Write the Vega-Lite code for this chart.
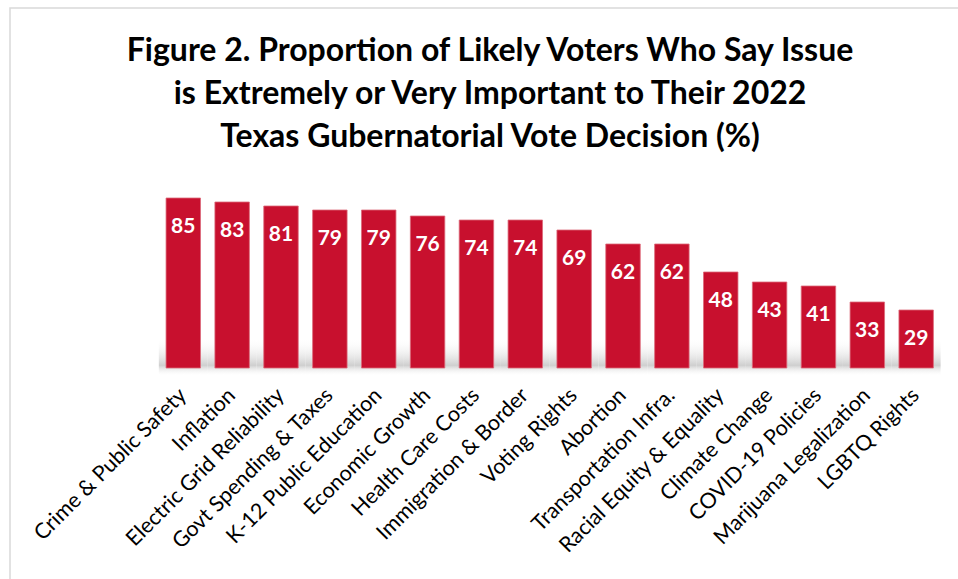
{
  "$schema": "https://vega.github.io/schema/vega-lite/v6.json",
  "width": 951,
  "height": 574,
  "autosize": {"type": "none"},
  "padding": {"left": 10, "top": 8, "right": -3, "bottom": -3},
  "background": "white",
  "config": {"view": {"stroke": "#d9d9d9", "strokeWidth": 1.5}, "font": "Lato"},
  "title": {
    "text": ["Figure 2. Proportion of Likely Voters Who Say Issue", "is Extremely or Very Important to Their 2022", "Texas Gubernatorial Vote Decision (%)"],
    "fontSize": 32,
    "font": "Lato",
    "fontWeight": "bold",
    "color": "#000000",
    "anchor": "middle",
    "frame": "group",
    "baseline": "top",
    "lineHeight": 43,
    "offset": -146,
    "dx": 4.5
  },
  "data": {
    "values": [
      {"issue": "Crime & Public Safety", "value": 85},
      {"issue": "Inflation", "value": 83},
      {"issue": "Electric Grid Reliability", "value": 81},
      {"issue": "Govt Spending & Taxes", "value": 79},
      {"issue": "K-12 Public Education", "value": 79},
      {"issue": "Economic Growth", "value": 76},
      {"issue": "Health Care Costs", "value": 74},
      {"issue": "Immigration & Border", "value": 74},
      {"issue": "Voting Rights", "value": 69},
      {"issue": "Abortion", "value": 62},
      {"issue": "Transportation Infra.", "value": 62},
      {"issue": "Racial Equity & Equality", "value": 48},
      {"issue": "Climate Change", "value": 43},
      {"issue": "COVID-19 Policies", "value": 41},
      {"issue": "Marijuana Legalization", "value": 33},
      {"issue": "LGBTQ Rights", "value": 29}
    ]
  },
  "encoding": {
    "x": {
      "field": "issue",
      "type": "nominal",
      "sort": null,
      "scale": {"range": [148.85, 930.6], "paddingInner": 0.295, "paddingOuter": 0.1475},
      "axis": {
        "title": null,
        "labelAngle": -45,
        "labelAlign": "right",
        "labelBaseline": "middle",
        "labelFontSize": 21.5,
        "labelFont": "Lato",
        "labelColor": "#000000",
        "labelPadding": 24,
        "domain": false,
        "ticks": false,
        "grid": false,
        "offset": -214,
        "labelLimit": 400,
        "labelOverlap": false
      }
    }
  },
  "layer": [
    {
      "mark": {
        "type": "bar",
        "width": {"band": 1.42},
        "color": {
          "gradient": "linear",
          "x1": 0, "y1": 0, "x2": 0, "y2": 1,
          "stops": [
            {"offset": 0, "color": "rgba(255,255,255,0)"},
            {"offset": 0.72, "color": "#cfcfcf"},
            {"offset": 1, "color": "rgba(255,255,255,0)"}
          ]
        }
      },
      "encoding": {
        "y": {"datum": 15, "type": "quantitative", "scale": {"domain": [0, 100], "range": [360, 160]}, "axis": null},
        "y2": {"datum": -4}
      }
    },
    {
      "mark": {"type": "bar", "color": "#C8102E", "stroke": "#dc6a7a", "strokeWidth": 0.8},
      "encoding": {
        "y": {"field": "value", "type": "quantitative", "scale": {"domain": [0, 100], "range": [360, 160]}, "axis": null}
      }
    },
    {
      "mark": {"type": "text", "baseline": "middle", "dy": 29, "fontSize": 21, "fontWeight": "bold", "color": "#ffffff", "font": "Lato"},
      "encoding": {
        "y": {"field": "value", "type": "quantitative", "scale": {"domain": [0, 100], "range": [360, 160]}, "axis": null},
        "text": {"field": "value", "type": "quantitative"}
      }
    }
  ]
}
